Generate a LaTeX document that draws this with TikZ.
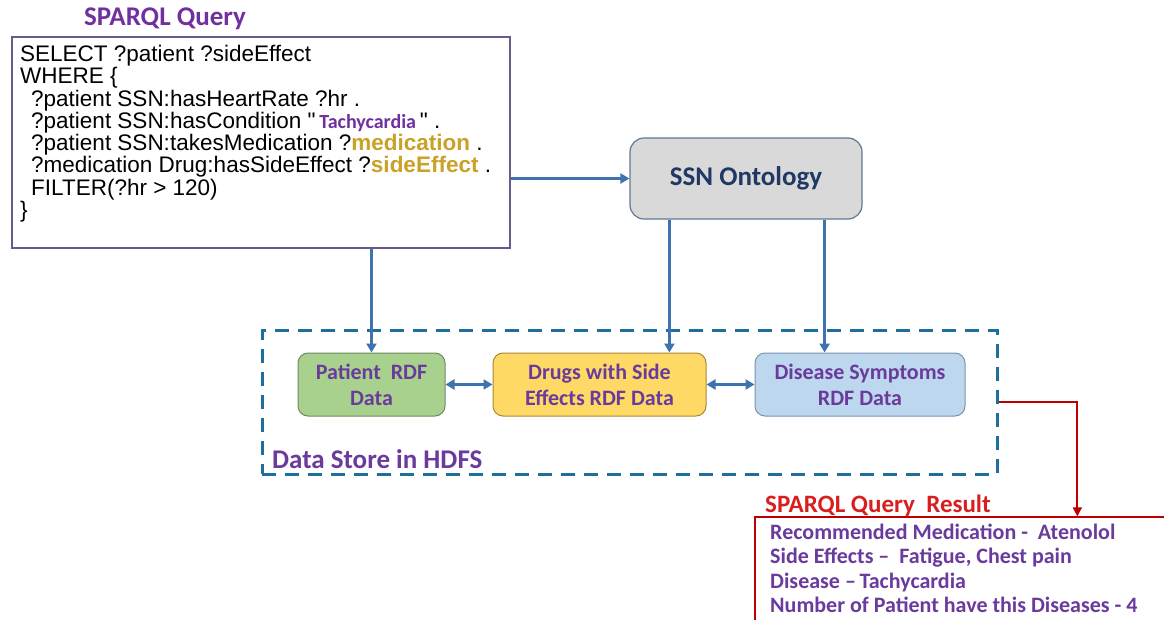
\documentclass[tikz,border=0pt]{standalone}
\usepackage{fontspec}
\setmainfont{Liberation Sans}
\newfontfamily\calfont{Carlito}
\newfontfamily\rawfont{Liberation Sans}[Ligatures=TeXOff]
\usetikzlibrary{arrows.meta,calc}
\definecolor{purp}{HTML}{7030A0}
\definecolor{boxpurp}{HTML}{6A3B9C}
\definecolor{qborder}{HTML}{6A5A8C}
\definecolor{gold}{HTML}{C9A227}
\definecolor{arrowblue}{HTML}{3E73B0}
\definecolor{dashblue}{HTML}{1F6F9C}
\definecolor{ssnfill}{HTML}{D9D9D9}
\definecolor{ssnborder}{HTML}{5E7A96}
\definecolor{navy}{HTML}{1F3864}
\definecolor{gfill}{HTML}{A9D18E}
\definecolor{gborder}{HTML}{6F8A63}
\definecolor{yfill}{HTML}{FFD966}
\definecolor{yborder}{HTML}{A8893A}
\definecolor{bfill}{HTML}{BDD7EE}
\definecolor{bborder}{HTML}{7A93AE}
\definecolor{resred}{HTML}{C00000}
\definecolor{titlered}{HTML}{D81E1E}
\newcommand{\sq}{{\rawfont"}}
\begin{document}
\begin{tikzpicture}[x=1pt,y=-1pt,
  qline/.style={anchor=base west, inner sep=0pt, font=\fontsize{22.5}{27}\selectfont},
  databox/.style={rounded corners=10pt, line width=1pt, inner sep=0pt, align=center,
    font=\calfont\bfseries\fontsize{22}{26}\selectfont, text=boxpurp},
  barrow/.style={draw=arrowblue, line width=2.5pt, -{Triangle[length=9pt,width=10pt]}},
  dblarrow/.style={draw=arrowblue, line width=2.5pt, {Triangle[length=9pt,width=10pt]}-{Triangle[length=9pt,width=10pt]}},
  restext/.style={anchor=base west, inner sep=0pt, text=boxpurp, font=\calfont\bfseries\fontsize{22}{26}\selectfont}
]
\useasboundingbox (0,0) rectangle (1164,620);
\fill[white] (0,0) rectangle (1164,620);
\clip (0,0) rectangle (1164,620);

% SPARQL query
\node[anchor=base, inner sep=0pt, text=purp, font=\calfont\bfseries\fontsize{27}{30}\selectfont] (qtitle) at (165,26) {SPARQL Query};
\node[draw=qborder, line width=1.3pt, minimum width=498pt, minimum height=211pt, inner sep=0pt] (q) at (261,142.5) {};
\node[qline] (l1) at (20,62) {SELECT ?patient ?sideEffect};
\node[qline] (l2) at (20,84) {WHERE \{};
\node[qline] (l3) at (31,106.5) {?patient SSN:hasHeartRate ?hr .};
\node[qline] (l4) at (31,128.5) {?patient SSN:hasCondition \sq\,{\calfont\bfseries\fontsize{20}{20}\selectfont\color{purp}Tachycardia}\,\sq{} .};
\node[qline] (l5) at (31,151) {?patient SSN:takesMedication ?{\bfseries\color{gold}medication} .};
\node[qline] (l6) at (31,173) {?medication Drug:hasSideEffect ?{\bfseries\color{gold}sideEffect} .};
\node[qline] (l7) at (31,195.5) {FILTER(?hr > 120)};
\node[qline] (l8) at (20,218) {\}};

% SSN ontology
\node[draw=ssnborder, fill=ssnfill, line width=1.2pt, rounded corners=14pt, minimum width=232pt, minimum height=81pt, inner sep=0pt,
  text=navy, font=\calfont\bfseries\fontsize{27}{30}\selectfont] (ssn) at (746,178.5) {SSN Ontology};

% Data store
\node[draw=dashblue, line width=3pt, dash pattern=on 14pt off 9pt, minimum width=735pt, minimum height=144pt, inner sep=0pt] (store) at (629.5,402) {};
\node[anchor=base west, inner sep=0pt, text=boxpurp, font=\calfont\bfseries\fontsize{27}{30}\selectfont] (storelabel) at (272,468) {Data Store in HDFS};

\node[databox, draw=gborder, fill=gfill, minimum width=147pt, minimum height=63pt] (pat) at (371.5,384.5) {Patient\ \ RDF\\Data};
\node[databox, draw=yborder, fill=yfill, minimum width=213pt, minimum height=63pt] (drug) at (599.5,384.5) {Drugs with Side\\Effects RDF Data};
\node[databox, draw=bborder, fill=bfill, minimum width=210pt, minimum height=63pt] (dis) at (860,384.5) {Disease Symptoms\\RDF Data};

% Result
\node[anchor=base west, inner sep=0pt, text=titlered, font=\calfont\bfseries\fontsize{25}{28}\selectfont] (restitle) at (765,512) {SPARQL Query\ \ Result};
\node[draw=resred, line width=1.3pt, minimum width=430pt, minimum height=130pt, inner sep=0pt] (res) at (970,582) {};
\node[restext] (r1) at (770,539) {Recommended Medication -\ \ Atenolol};
\node[restext] (r2) at (770,563.5) {Side Effects \textendash\ \ Fatigue, Chest pain};
\node[restext] (r3) at (770,588) {Disease \textendash\,Tachycardia};
\node[restext] (r4) at (770,612.5) {Number of Patient have this Diseases - 4};

% Connectors
\draw[barrow] (ssn.west -| q.east) -- (ssn.west);
\draw[barrow] (pat.north |- q.south) -- (pat.north);
\draw[barrow] ([xshift=40pt]ssn.south west) -- ([xshift=40pt]ssn.south west |- drug.north);
\draw[barrow] ([xshift=-38pt]ssn.south east) -- ([xshift=-38pt]ssn.south east |- dis.north);
\draw[dblarrow] (pat.east) -- (drug.west);
\draw[dblarrow] (drug.east) -- (dis.west);
\draw[draw=resred, line width=2pt, -{Triangle[length=9pt,width=9pt]}] (store.east) -| ([xshift=323pt]res.north west);
\end{tikzpicture}
\end{document}
